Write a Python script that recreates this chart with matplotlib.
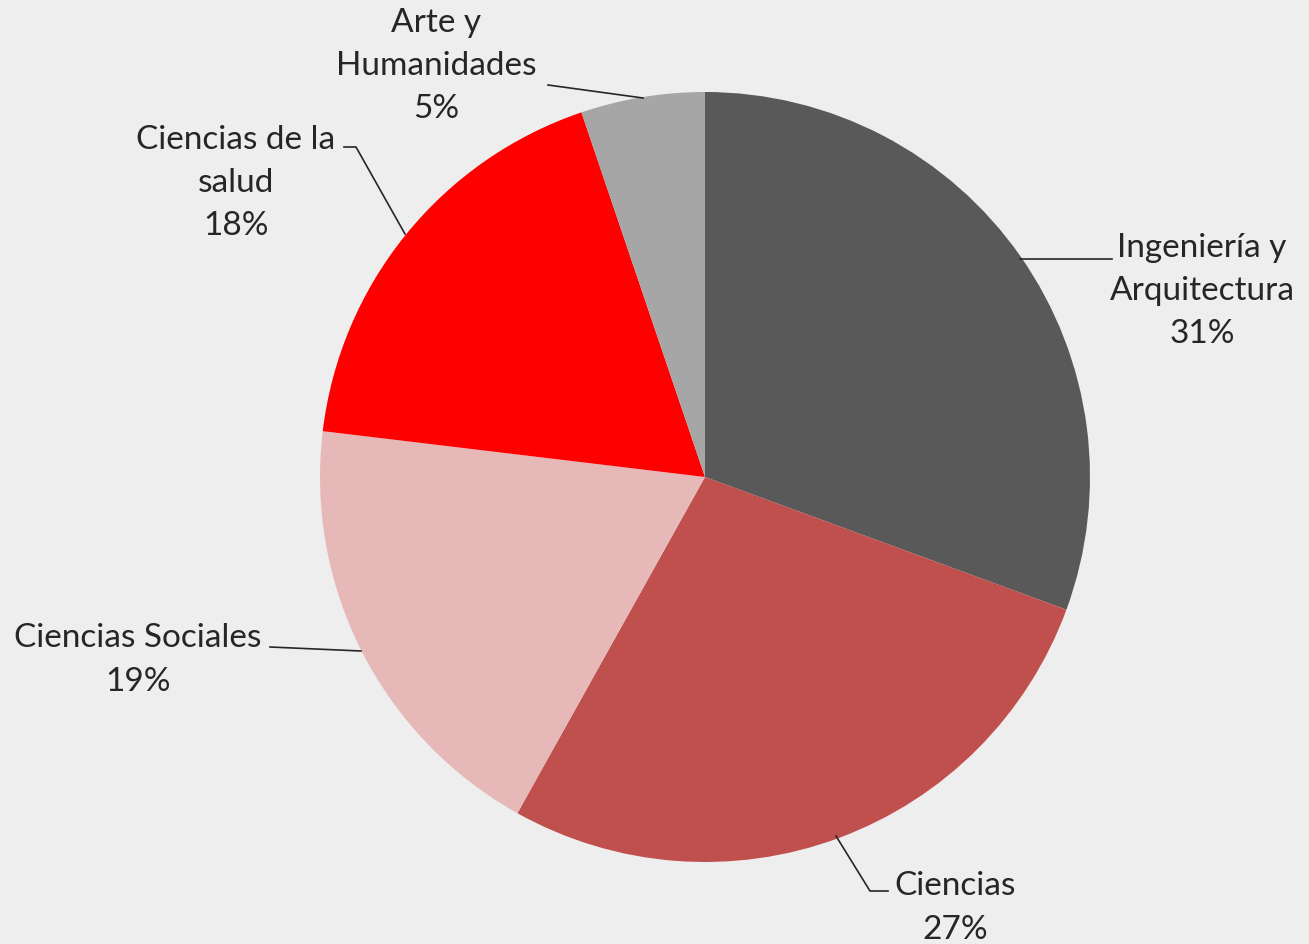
import matplotlib.pyplot as plt

# Distribución por área de conocimiento
areas = ['Ingeniería y\nArquitectura', 'Ciencias', 'Ciencias Sociales',
         'Ciencias de la\nsalud', 'Arte y\nHumanidades']
valores = [30.6, 27.5, 18.8, 17.9, 5.2]
porcentajes = ['31%', '27%', '19%', '18%', '5%']
colores = ['#595959', '#C0504D', '#E6B9B8', '#FF0000', '#A6A6A6']

W, H = 1309, 945
CX, CY, R = 705, 478, 385


def px(x, y):
    # pixel de la imagen -> coordenadas de datos (centro del pie = 0,0; radio = 1)
    return (x - CX) / R, (CY - y) / R


fig = plt.figure(figsize=(W / 100, H / 100), dpi=100)
fig.patch.set_facecolor('#EEEEEE')
ax = fig.add_axes([0, 0, 1, 1])
ax.set_facecolor('#EEEEEE')

ax.pie(valores, colors=colores, startangle=90, counterclock=False,
       radius=1, center=(0, 0), frame=True,
       wedgeprops={'linewidth': 0})
ax.set_xlim(-CX / R, (W - CX) / R)
ax.set_ylim(-(H - CY) / R, CY / R)
ax.set_aspect('auto')
ax.axis('off')

# posiciones de las etiquetas (centro del texto) y líneas guía
etiquetas = [
    ((1202, 291), [(1020, 260), (1112, 260)]),
    ((955, 908), [(836, 837), (870, 892), (888, 892)]),
    ((138, 660), [(270, 648), (361, 652)]),
    ((236, 183), [(344, 148), (356, 148), (405, 235)]),
    ((436, 66), [(548, 86), (643, 99)]),
]

for i, ((tx, ty), linea) in enumerate(etiquetas):
    x, y = px(tx, ty)
    ax.text(x, y, areas[i] + '\n' + porcentajes[i], ha='center', va='center',
            fontsize=24, color='#262626', family=['Lato', 'DejaVu Sans'],
            linespacing=1.55)
    xs = [px(a, b)[0] for a, b in linea]
    ys = [px(a, b)[1] for a, b in linea]
    ax.plot(xs, ys, color='#262626', linewidth=1.2)

fig.savefig('out.png', dpi=100, facecolor=fig.get_facecolor())
